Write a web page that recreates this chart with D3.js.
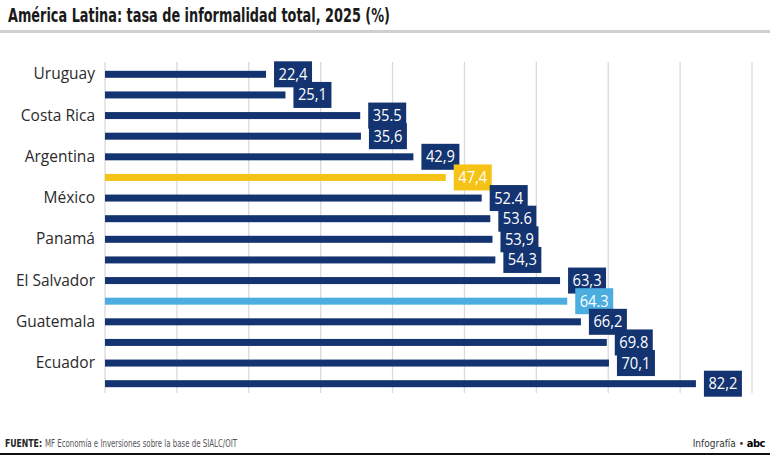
<!DOCTYPE html>
<html><head><meta charset="utf-8">
<script src="https://cdn.jsdelivr.net/npm/d3@7"></script>
<style>
html,body{margin:0;padding:0;background:#fff;}
svg{display:block;}
</style></head>
<body>
<svg id="c" width="770" height="458"></svg>
<script>
const categories = ["Uruguay","","Costa Rica","","Argentina","","México","","Panamá","","El Salvador","","Guatemala","","Ecuador",""];
const values = [22.4,25.1,35.5,35.6,42.9,47.4,52.4,53.6,53.9,54.3,63.3,64.3,66.2,69.8,70.1,82.2];
const valueLabels = ["22,4","25,1","35.5","35,6","42,9","47,4","52.4","53.6","53,9","54,3","63,3","64.3","66,2","69.8","70,1","82,2"];
const highlight = ["","","","","","avg","","","","","","lac","","","",""];
const xTicks = [0,10,20,30,40,50,60,70,80,90];

const W = 770, H = 458;
const svg = d3.select("#c");
const navy = "#133470", yellow = "#f5c316", lightBlue = "#4caee0";
const colorOf = h => h === "avg" ? yellow : h === "lac" ? lightBlue : navy;
const narrow = "'Liberation Sans Narrow','DejaVu Sans Condensed',sans-serif";

// Title
svg.append("text").attr("x", 8).attr("y", 22)
  .attr("font-family", narrow)
  .attr("font-weight", "bold").attr("font-size", 19).attr("fill", "#1a1a1a")
  .attr("textLength", 382).attr("lengthAdjust", "spacingAndGlyphs")
  .text("América Latina: tasa de informalidad total, 2025 (%)");
svg.append("rect").attr("x", 0).attr("y", 30).attr("width", W).attr("height", 3).attr("fill", "#cfcfcf");

const x = d3.scaleLinear().domain([0, 90]).range([105, 752]);
const y = d3.scaleBand().domain(d3.range(categories.length)).range([64, 394]);

// grid
svg.append("g").selectAll("line").data(xTicks).join("line")
  .attr("x1", d => x(d)).attr("x2", d => x(d))
  .attr("y1", 62).attr("y2", 393)
  .attr("stroke", "#dadada").attr("stroke-width", 1.3);

// y axis labels
const yAxis = d3.axisLeft(y).tickSize(0).tickPadding(10).tickFormat(i => categories[i]);
const ga = svg.append("g").attr("transform", `translate(${x(0)},0)`).call(yAxis);
ga.select(".domain").remove();
ga.selectAll("text").attr("font-family", "'Open Sans',sans-serif").attr("font-size", 15.5).attr("fill", "#2a2a2a");

const bh = 7;
const g = svg.append("g");
const idx = d3.range(values.length);
g.selectAll("rect.bar").data(idx).join("rect").attr("class", "bar")
  .attr("x", x(0)).attr("y", i => y(i) + y.bandwidth()/2 - bh/2)
  .attr("width", i => x(values[i]) - x(0)).attr("height", bh)
  .attr("fill", i => colorOf(highlight[i]));

// labels
const lg = svg.append("g");
idx.forEach(i => {
  const cx = x(values[i]) + 8, cy = y(i) + y.bandwidth()/2;
  lg.append("rect").attr("x", cx).attr("y", cy - 13).attr("width", 38).attr("height", 26)
    .attr("fill", colorOf(highlight[i]));
  lg.append("text").attr("x", cx + 19).attr("y", cy + 5.5).attr("text-anchor", "middle")
    .attr("font-family", "'Open Sans',sans-serif").attr("font-size", 15.5).attr("fill", "#fff")
    .attr("textLength", 29).attr("lengthAdjust", "spacingAndGlyphs")
    .text(valueLabels[i]);
});

// footer
svg.append("text").attr("x", 5).attr("y", 447)
  .attr("font-family", narrow).attr("font-weight", "bold")
  .attr("font-size", 10).attr("fill", "#222")
  .attr("textLength", 37).attr("lengthAdjust", "spacingAndGlyphs")
  .text("FUENTE:");
svg.append("text").attr("x", 45).attr("y", 447)
  .attr("font-family", narrow)
  .attr("font-size", 10).attr("fill", "#555")
  .attr("textLength", 192).attr("lengthAdjust", "spacingAndGlyphs")
  .text("MF Economía e Inversiones sobre la base de SIALC/OIT");

const fr = svg.append("text").attr("x", 765).attr("y", 447).attr("text-anchor", "end")
  .attr("font-family", narrow)
  .attr("font-size", 10).attr("fill", "#333");
fr.append("tspan").text("Infografía • ");
fr.append("tspan").attr("font-weight", "bold").attr("font-size", 11).attr("fill", "#000").attr("letter-spacing", -0.5).text("abc");

svg.append("rect").attr("x", 0).attr("y", 453).attr("width", W).attr("height", 2).attr("fill", "#111");
</script>
</body></html>
